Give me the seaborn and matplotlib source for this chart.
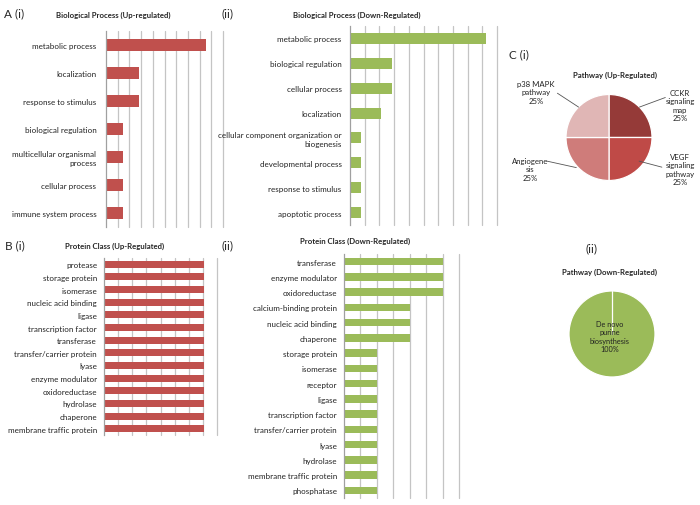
import matplotlib
matplotlib.use("Agg")
import matplotlib.pyplot as plt
import seaborn as sns
import numpy as np
import pandas as pd

sns.set_style("white")
plt.rcParams['font.family'] = ['Lato', 'DejaVu Sans']

RED = '#c0504d'
GREEN = '#9bbb59'

# ---------------- data ----------------
bp_up_cats = ["metabolic process", "localization", "response to stimulus",
              "biological regulation", "multicellular organismal\nprocess",
              "cellular process", "immune system process"]
bp_up_vals = [42.9, 14.3, 14.3, 7.1, 7.1, 7.1, 7.1]

bp_down_cats = ["metabolic process", "biological regulation", "cellular process",
                "localization", "cellular component organization or\nbiogenesis",
                "developmental process", "response to stimulus", "apoptotic process"]
bp_down_vals = [46.4, 14.3, 14.3, 10.7, 3.6, 3.6, 3.6, 3.6]

pc_up_cats = ["protease", "storage protein", "isomerase", "nucleic acid binding",
              "ligase", "transcription factor", "transferase",
              "transfer/carrier protein", "lyase", "enzyme modulator",
              "oxidoreductase", "hydrolase", "chaperone", "membrane traffic protein"]
pc_up_vals = [7.1, 7.1, 7.1, 7.1, 7.1, 7.1, 7.1, 7.1, 7.1, 7.1, 7.1, 7.1, 7.1, 7.1]

pc_down_cats = ["transferase", "enzyme modulator", "oxidoreductase",
                "calcium-binding protein", "nucleic acid binding", "chaperone",
                "storage protein", "isomerase", "receptor", "ligase",
                "transcription factor", "transfer/carrier protein", "lyase",
                "hydrolase", "membrane traffic protein", "phosphatase"]
pc_down_vals = [12, 12, 12, 8, 8, 8, 4, 4, 4, 4, 4, 4, 4, 4, 4, 4]

pw_up_labels = ["CCKR\nsignaling\nmap\n25%", "VEGF\nsignaling\npathway\n25%",
                "Angiogene\nsis\n25%", "p38 MAPK\npathway\n25%"]
pw_up_vals = [25, 25, 25, 25]
pw_up_colors = ['#953a38', '#bf4a47', '#cf7c7a', '#e0b6b5']

pw_down_labels = ["De novo\npurine\nbiosynthesis\n100%"]
pw_down_vals = [100]

# ---------------- figure ----------------
W, H = 700, 506
fig = plt.figure(figsize=(7, 5.06), dpi=100)


def px_axes(l, t, r, b):
    return fig.add_axes([l / W, 1 - b / H, (r - l) / W, (b - t) / H])


def bar_panel(rect, cats, vals, color, xmax, step, width, fs, pad):
    ax = px_axes(*rect)
    df = pd.DataFrame({'cat': cats, 'val': vals})
    sns.barplot(data=df, x='val', y='cat', orient='h', color=color,
                saturation=1, width=width, ax=ax, linewidth=0, zorder=2)
    ax.set_xlim(0, xmax)
    ax.set_ylim(len(cats) - 0.5, -0.5)
    for x in np.arange(step, xmax + 1e-9, step):
        ax.axvline(x, color='#c4c4c4', lw=0.9, zorder=0, clip_on=False)
    ax.set_xticks([])
    ax.set_xlabel('')
    ax.set_ylabel('')
    for s in ['top', 'right', 'bottom']:
        ax.spines[s].set_visible(False)
    ax.spines['left'].set_color('#a0a0a0')
    ax.spines['left'].set_linewidth(0.9)
    ax.tick_params(axis='y', which='major', length=0, labelsize=fs, pad=pad,
                   labelcolor='#222222')
    ax.set_yticks(np.arange(-0.5, len(cats), 1), minor=True)
    ax.tick_params(axis='y', which='minor', length=2.5, color='#a0a0a0', width=0.8)
    for lab in ax.get_yticklabels():
        lab.set_linespacing(1.3)
    return ax


bar_panel((106, 32, 223, 228), bp_up_cats, bp_up_vals, RED, 50, 5, 0.43, 5.8, 7)
bar_panel((350, 27, 497, 226), bp_down_cats, bp_down_vals, GREEN, 50, 5, 0.44, 5.8, 6)
bar_panel((104, 259, 217, 436), pc_up_cats, pc_up_vals, RED, 8, 1, 0.55, 5.8, 5)
bar_panel((344, 255, 459, 499), pc_down_cats, pc_down_vals, GREEN, 14, 2, 0.5, 5.8, 5)

# panel letters
fig.text(4 / W, 1 - 14 / H, "A (i)", fontsize=8.5, va='center', ha='left')
fig.text(222 / W, 1 - 14 / H, "(ii)", fontsize=8.5, va='center', ha='left')
fig.text(5 / W, 1 - 246 / H, "B (i)", fontsize=8.5, va='center', ha='left')
fig.text(222 / W, 1 - 246 / H, "(ii)", fontsize=8.5, va='center', ha='left')
fig.text(509 / W, 1 - 55 / H, "C (i)", fontsize=8.5, va='center', ha='left')
fig.text(586 / W, 1 - 249 / H, "(ii)", fontsize=8.5, va='center', ha='left')

# panel titles
tkw = dict(fontsize=5.6, fontweight='bold', ha='center', va='center')
fig.text(113 / W, 1 - 15 / H, "Biological Process (Up-regulated)", **tkw)
fig.text(357 / W, 1 - 15 / H, "Biological Process (Down-Regulated)", **tkw)
fig.text(115 / W, 1 - 246 / H, "Protein Class (Up-Regulated)", **tkw)
fig.text(355 / W, 1 - 241 / H, "Protein Class (Down-Regulated)", **tkw)
fig.text(615 / W, 1 - 75 / H, "Pathway (Up-Regulated)", **tkw)
fig.text(610 / W, 1 - 272 / H, "Pathway (Down-Regulated)", **tkw)

# pie up-regulated
R = 43
cx, cy = 609, 138.5
axp = px_axes(cx - R, cy - R, cx + R, cy + R)
axp.pie(pw_up_vals, colors=pw_up_colors, startangle=90, counterclock=False,
        wedgeprops=dict(edgecolor='white', linewidth=0.9))
axp.set_xlim(-1, 1)
axp.set_ylim(-1, 1)
label_pos = [(1.65, 0.76), (1.65, -0.73), (-1.84, -0.73), (-1.70, 1.06)]
leaders = [((1.31, 0.93), (0.707, 0.707)), ((1.23, -0.69), (0.70, -0.55)),
           ((-1.44, -0.55), (-0.76, -0.70)), ((-1.20, 1.03), (-0.707, 0.707))]
for lab, (tx, ty), (p0, p1) in zip(pw_up_labels, label_pos, leaders):
    axp.text(tx, ty, lab, fontsize=5.6, ha='center', va='center',
             color='#222222', linespacing=1.25, clip_on=False)
    axp.plot([p0[0], p1[0]], [p0[1], p1[1]], color='#555555', lw=0.6,
             clip_on=False)

# pie down-regulated
cx2, cy2 = 612, 335
axq = px_axes(cx2 - R, cy2 - R, cx2 + R, cy2 + R)
axq.pie(pw_down_vals, colors=[GREEN], startangle=90, counterclock=False,
        wedgeprops=dict(edgecolor='white', linewidth=0.9))
axq.set_xlim(-1, 1)
axq.set_ylim(-1, 1)
axq.plot([0, 0], [0, 1], color='white', lw=0.9)
axq.text(-0.05, -0.05, pw_down_labels[0], fontsize=5.3, ha='center', va='center',
         color='#222222', linespacing=1.25)

fig.savefig("out.png", dpi=100)
